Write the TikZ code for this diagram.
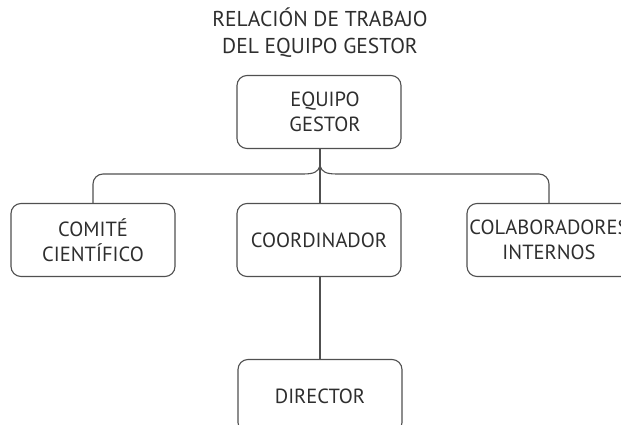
\documentclass[tikz,border=0pt]{standalone}
\usepackage{fontspec}
\setmainfont{PT Sans}
\begin{document}
\begin{tikzpicture}[x=1pt,y=-1pt,
  box/.style={draw=linec, line width=1.1pt, rounded corners=10pt, minimum width=164pt, minimum height=73pt, align=center, text=textc, font=\fontsize{20.5}{25}\selectfont, inner sep=0pt},
  conn/.style={draw=linec, line width=1.1pt}]
\definecolor{linec}{HTML}{505050}
\definecolor{textc}{HTML}{2E2E2E}
\useasboundingbox (0,0) rectangle (621,425);
\node[text=textc, align=center, font=\fontsize{21.5}{27}\selectfont] (title) at (320,33) {RELACIÓN DE TRABAJO\\DEL EQUIPO GESTOR};
\node[box] (eq) at (319,112) {\hspace*{12pt}EQUIPO\\\hspace*{12pt}GESTOR};
\node[box] (com) at (93,240) {COMITÉ\\CIENTÍFICO};
\node[box] (coo) at (319,240) {COORDINADOR};
\node[box] (col) at (549,240) {COLABORADORES\\INTERNOS};
\node[box] (dir) at (320,396) {DIRECTOR};
\coordinate (cusp) at (320,166);
\draw[conn] (eq.south -| cusp) -- (coo.north -| cusp);
\draw[conn] (com.north) -- (93,184) arc[start angle=180, end angle=270, x radius=10pt, y radius=-10pt] -- (303,174) .. controls (314,174) and (318,172) .. (cusp);
\draw[conn] (col.north) -- (549,184) arc[start angle=0, end angle=-90, x radius=10pt, y radius=-10pt] -- (337,174) .. controls (326,174) and (322,172) .. (cusp);
\draw[conn] (coo.south -| cusp) -- (dir.north -| cusp);
\end{tikzpicture}
\end{document}
